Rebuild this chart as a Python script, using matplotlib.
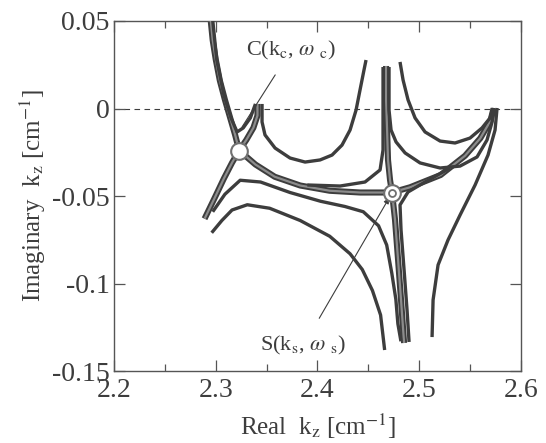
import matplotlib
matplotlib.use("Agg")
import matplotlib.pyplot as plt
from matplotlib.ticker import MultipleLocator

plt.rcParams["font.family"] = ["Liberation Serif", "DejaVu Serif"]
plt.rcParams["mathtext.fontset"] = "stix"
plt.rcParams["axes.unicode_minus"] = False

# ---- data ----
x_ticks = [2.2, 2.3, 2.4, 2.5, 2.6]
x_tick_labels = ["2.2", "2.3", "2.4", "2.5", "2.6"]
y_ticks = [0.05, 0, -0.05, -0.1, -0.15]
y_tick_labels = ["0.05", "0", "-0.05", "-0.1", "-0.15"]

# thick bundle: top-left branch -> C -> arc -> S -> right tip
thick_a_x = [2.295, 2.297, 2.300, 2.304, 2.309, 2.314, 2.319, 2.323, 2.339, 2.358,
             2.383, 2.412, 2.442, 2.473, 2.491, 2.521, 2.545, 2.560, 2.570, 2.573]
thick_a_y = [0.0506, 0.039, 0.028, 0.016, 0.005, -0.005, -0.015, -0.024, -0.032, -0.039,
             -0.044, -0.047, -0.048, -0.048, -0.045, -0.038, -0.027, -0.017, -0.007, 0.0]

# thick bundle: small tip -> C -> lower-left end
thick_b_x = [2.341, 2.341, 2.337, 2.330, 2.323, 2.316, 2.308, 2.299, 2.289]
thick_b_y = [0.0026, -0.004, -0.011, -0.018, -0.024, -0.031, -0.040, -0.051, -0.063]

# V-shaped curve above C
v_x = [2.297, 2.301, 2.308, 2.315, 2.321, 2.327, 2.334, 2.339]
v_y = [0.0506, 0.0277, 0.0077, -0.0054, -0.0134, -0.0111, -0.0054, 0.0026]

# vertical spike through S
spike_x = [2.4674, 2.4674, 2.4684, 2.4693, 2.4713, 2.4733, 2.4762, 2.4792, 2.4821, 2.4851]
spike_y = [0.0243, 0.0049, -0.0123, -0.0294, -0.0409, -0.0483, -0.0637, -0.0866, -0.1094, -0.1340]

# lower-right curve around S (into spike bottom)
s_lr_x = [2.5303, 2.5057, 2.4890, 2.4811, 2.4821, 2.4851, 2.4880, 2.4900]
s_lr_y = [-0.0340, -0.0420, -0.0477, -0.0551, -0.0694, -0.0923, -0.1151, -0.1334]

# upper-left curve around S (spike -> arc)
s_ul_x = [2.4644, 2.4644, 2.4615, 2.4467, 2.4222, 2.390]
s_ul_y = [0.0237, -0.0237, -0.0351, -0.0420, -0.0443, -0.0437]

# curve below C running under the arc into the spike bottom
m1_x = [2.297, 2.309, 2.324, 2.344, 2.373, 2.403, 2.427, 2.445, 2.460, 2.468, 2.473, 2.477, 2.479, 2.482]
m1_y = [-0.059, -0.049, -0.041, -0.042, -0.048, -0.053, -0.056, -0.059, -0.067, -0.078, -0.094, -0.109, -0.123, -0.133]

# lowest curve
m2_x = [2.296, 2.306, 2.316, 2.331, 2.353, 2.383, 2.412, 2.432, 2.444, 2.454, 2.462, 2.466]
m2_y = [-0.071, -0.064, -0.058, -0.055, -0.057, -0.064, -0.073, -0.083, -0.092, -0.104, -0.118, -0.138]

# U-shaped curve between C and S
u1_x = [2.3455, 2.3455, 2.3484, 2.3583, 2.3730, 2.3878, 2.4025, 2.4143, 2.4241, 2.4320,
        2.4379, 2.4418, 2.4457, 2.4477]
u1_y = [0.0026, -0.0077, -0.0151, -0.0226, -0.0283, -0.0306, -0.0294, -0.0266, -0.0209, -0.0123,
        -0.0009, 0.0106, 0.0220, 0.0277]

# upper U right of the spike
u2_x = [2.4811, 2.4841, 2.4890, 2.4959, 2.5057, 2.5205, 2.5352, 2.5499, 2.5617, 2.5696, 2.5726]
u2_y = [0.0266, 0.0163, 0.0049, -0.0054, -0.0134, -0.0186, -0.0197, -0.0169, -0.0111, -0.0054, 0.0003]

# lower U right of the spike (spike -> right tip)
u3_x = [2.4703, 2.4703, 2.4723, 2.4772, 2.4861, 2.5008, 2.5205, 2.5401, 2.5568, 2.5666, 2.5716, 2.5736]
u3_y = [0.0237, -0.0009, -0.0123, -0.0191, -0.0254, -0.0311, -0.0340, -0.0329, -0.0277, -0.0180, -0.0077, 0.0003]

# right-most curve
r_x = [2.5765, 2.5745, 2.5676, 2.5549, 2.5401, 2.5283, 2.5185, 2.5136, 2.5126]
r_y = [0.0003, -0.0123, -0.0266, -0.0437, -0.0609, -0.0751, -0.0894, -0.1094, -0.1306]

point_c = (2.323, -0.024)
point_s = (2.473, -0.048)

# ---- plot ----
fig = plt.figure(figsize=(5.46, 4.43), dpi=100)
ax = fig.add_axes([0.2088, 0.1625, 0.7454, 0.7901])

dark = "#3d3d3d"
core = "#8c8c8c"

ax.axhline(0, color=dark, lw=0.8, ls=(0, (5, 4)), zorder=1)

for xs, ys in [(thick_a_x, thick_a_y), (thick_b_x, thick_b_y), (spike_x, spike_y)]:
    ax.plot(xs, ys, color=dark, lw=4.4, solid_capstyle="butt", zorder=2)
    ax.plot(xs, ys, color=core, lw=1.6, solid_capstyle="butt", zorder=3)

for xs, ys in [(v_x, v_y), (s_lr_x, s_lr_y), (s_ul_x, s_ul_y), (m1_x, m1_y), (m2_x, m2_y),
               (u1_x, u1_y), (u2_x, u2_y), (u3_x, u3_y), (r_x, r_y)]:
    ax.plot(xs, ys, color=dark, lw=2.4, solid_capstyle="butt", zorder=4)

ax.plot(*point_c, marker="o", ms=12, mfc="white", mec="#707070", mew=1.5, zorder=6)
ax.plot(*point_s, marker="o", ms=12, mfc="white", mec="#707070", mew=1.5, zorder=6)
ax.plot(*point_s, marker="o", ms=5, mfc="white", mec="#707070", mew=1.3, zorder=7)

ax.annotate(r"C(k$_\mathrm{c}$, $\omega$ $_\mathrm{c}$)", xy=(2.3258, -0.0106),
            xytext=(2.374, 0.0334), ha="center", va="center", fontsize=16, color=dark,
            arrowprops=dict(arrowstyle="-", color=dark, lw=0.8, shrinkA=9, shrinkB=0))
ax.annotate(r"S(k$_\mathrm{s}$, $\omega$ $_\mathrm{s}$)", xy=(2.4704, -0.0511),
            xytext=(2.386, -0.1356), ha="center", va="center", fontsize=16, color=dark,
            arrowprops=dict(arrowstyle="-|>", color=dark, lw=0.8, mutation_scale=8,
                            shrinkA=11, shrinkB=0))

ax.set_xlim(2.2, 2.6)
ax.set_ylim(-0.15, 0.05)
ax.set_xticks(x_ticks, x_tick_labels)
ax.set_yticks(y_ticks, y_tick_labels)
ax.xaxis.set_minor_locator(MultipleLocator(0.05))
ax.tick_params(which="both", direction="in", top=True, right=True, colors="#555555",
               labelcolor="#3d3d3d", labelsize=20)
ax.tick_params(which="major", length=8, width=0.9)
ax.tick_params(which="minor", length=5, width=0.9)
ax.tick_params(axis="y", pad=3)
ax.tick_params(axis="x", pad=5)
for sp in ax.spines.values():
    sp.set_color("#555555")
    sp.set_linewidth(1.0)

ax.set_xlabel(r"Real  k$_\mathrm{z}$ [cm$^\mathrm{-1}$]", fontsize=18, color="#3d3d3d", labelpad=6)
ax.set_ylabel(r"Imaginary  k$_\mathrm{z}$ [cm$^\mathrm{-1}$]", fontsize=18, color="#3d3d3d", labelpad=3)

fig.savefig("out.png", dpi=100)
